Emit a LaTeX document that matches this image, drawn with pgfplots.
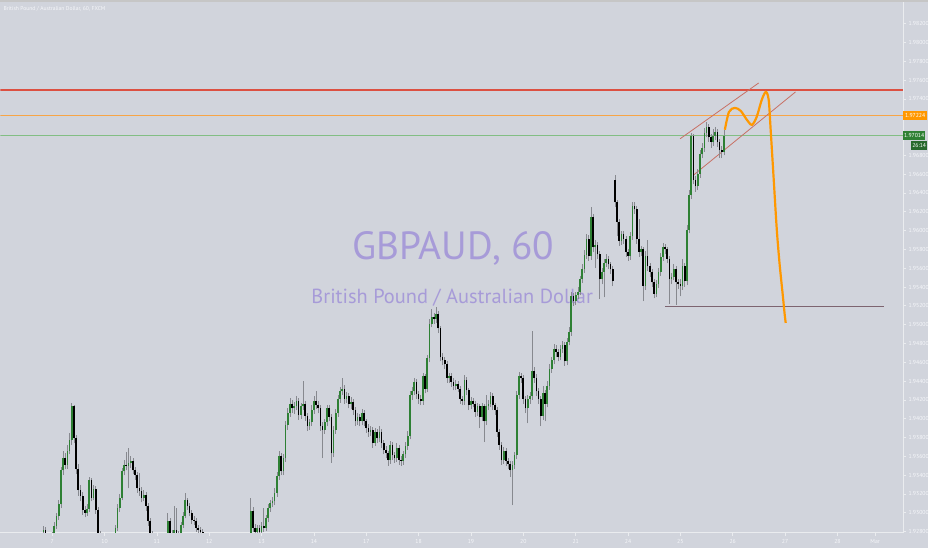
\documentclass[border=0pt]{standalone}
\usepackage{fontspec}
\setmainfont{PT Sans}
\usepackage{pgfplots}
\usepackage{pgfplotstable}
\pgfplotsset{compat=1.18}
\definecolor{bgc}{RGB}{209,212,220}
\definecolor{upc}{RGB}{46,128,52}
\definecolor{dnc}{RGB}{0,0,0}
\definecolor{wickc}{RGB}{135,137,143}
\definecolor{wmc}{RGB}{167,155,216}
\definecolor{lblc}{RGB}{246,247,250}
\definecolor{redl}{RGB}{220,80,66}
\definecolor{orgl}{RGB}{247,165,70}
\definecolor{grnl}{RGB}{130,190,132}
\definecolor{chanc}{RGB}{200,112,100}
\definecolor{suppc}{RGB}{125,100,112}
\definecolor{orgc}{RGB}{255,152,0}
\definecolor{dgrn}{RGB}{40,105,45}
\pgfplotstableread{
h o hi lo c
20 1.9280 1.9286 1.9270 1.9282
21 1.9282 1.9285 1.9264 1.9268
22 1.9268 1.9272 1.9260 1.9265
23 1.9265 1.9274 1.9262 1.9271
24 1.9271 1.9279 1.9268 1.9275
25 1.9275 1.9290 1.9272 1.9286
26 1.9286 1.9300 1.9283 1.9296
27 1.9296 1.9314 1.9292 1.9309
28 1.9309 1.9349 1.9305 1.9345
29 1.9345 1.9366 1.9340 1.9358
30 1.9358 1.9363 1.9346 1.9351
31 1.9351 1.9372 1.9347 1.9366
32 1.9366 1.9385 1.9362 1.9377
33 1.9377 1.9417 1.9372 1.9413
34 1.9413 1.9415 1.9374 1.9379
35 1.9379 1.9383 1.9341 1.9347
36 1.9347 1.9352 1.9318 1.9324
37 1.9324 1.9330 1.9312 1.9318
38 1.9318 1.9322 1.9298 1.9303
39 1.9303 1.9307 1.9295 1.9300
40 1.9300 1.9309 1.9297 1.9304
41 1.9304 1.9338 1.9301 1.9335
42 1.9335 1.9337 1.9312 1.9316
43 1.9316 1.9330 1.9313 1.9325
44 1.9325 1.9328 1.9299 1.9303
45 1.9303 1.9306 1.9273 1.9278
46 1.9278 1.9281 1.9264 1.9268
47 1.9268 1.9271 1.9256 1.9261
48 1.9261 1.9265 1.9252 1.9257
49 1.9257 1.9260 1.9250 1.9254
50 1.9254 1.9263 1.9251 1.9260
51 1.9260 1.9268 1.9257 1.9265
52 1.9265 1.9275 1.9262 1.9271
53 1.9271 1.9287 1.9268 1.9284
54 1.9284 1.9309 1.9281 1.9305
55 1.9305 1.9320 1.9301 1.9316
56 1.9316 1.9348 1.9313 1.9344
57 1.9344 1.9356 1.9340 1.9351
58 1.9351 1.9365 1.9345 1.9350
59 1.9350 1.9369 1.9326 1.9353
60 1.9353 1.9360 1.9348 1.9355
61 1.9355 1.9358 1.9341 1.9345
62 1.9345 1.9349 1.9335 1.9340
63 1.9340 1.9343 1.9321 1.9326
64 1.9326 1.9342 1.9318 1.9323
65 1.9323 1.9327 1.9311 1.9316
66 1.9316 1.9324 1.9312 1.9319
67 1.9319 1.9322 1.9302 1.9307
68 1.9307 1.9310 1.9286 1.9291
69 1.9291 1.9294 1.9273 1.9278
70 1.9278 1.9281 1.9263 1.9268
71 1.9268 1.9271 1.9259 1.9263
72 1.9263 1.9266 1.9253 1.9257
73 1.9257 1.9264 1.9254 1.9261
74 1.9261 1.9268 1.9258 1.9265
75 1.9265 1.9272 1.9262 1.9269
76 1.9269 1.9276 1.9266 1.9273
77 1.9273 1.9300 1.9270 1.9291
78 1.9291 1.9294 1.9274 1.9278
79 1.9278 1.9282 1.9270 1.9275
80 1.9275 1.9307 1.9272 1.9282
81 1.9282 1.9305 1.9274 1.9278
82 1.9278 1.9281 1.9270 1.9275
83 1.9275 1.9290 1.9272 1.9287
84 1.9287 1.9301 1.9284 1.9297
85 1.9297 1.9321 1.9294 1.9313
86 1.9313 1.9316 1.9303 1.9307
87 1.9307 1.9310 1.9296 1.9300
88 1.9300 1.9303 1.9288 1.9292
89 1.9292 1.9296 1.9287 1.9291
90 1.9291 1.9294 1.9280 1.9284
91 1.9284 1.9287 1.9278 1.9282
92 1.9282 1.9285 1.9276 1.9280
93 1.9280 1.9283 1.9269 1.9273
94 1.9273 1.9276 1.9261 1.9265
95 1.9265 1.9268 1.9257 1.9261
96 1.9261 1.9264 1.9252 1.9256
97 1.9256 1.9259 1.9248 1.9252
98 1.9252 1.9255 1.9246 1.9250
99 1.9250 1.9257 1.9247 1.9254
100 1.9254 1.9260 1.9251 1.9257
101 1.9257 1.9260 1.9248 1.9252
102 1.9252 1.9255 1.9242 1.9246
103 1.9246 1.9249 1.9239 1.9243
104 1.9243 1.9246 1.9237 1.9241
105 1.9241 1.9248 1.9238 1.9245
106 1.9245 1.9253 1.9242 1.9250
107 1.9250 1.9253 1.9242 1.9246
108 1.9246 1.9255 1.9243 1.9252
109 1.9252 1.9259 1.9249 1.9256
110 1.9256 1.9259 1.9250 1.9254
111 1.9254 1.9263 1.9251 1.9260
112 1.9260 1.9266 1.9257 1.9263
113 1.9263 1.9270 1.9260 1.9267
114 1.9267 1.9275 1.9264 1.9271
115 1.9271 1.9316 1.9268 1.9302
116 1.9302 1.9306 1.9280 1.9284
117 1.9284 1.9288 1.9276 1.9280
118 1.9280 1.9287 1.9277 1.9284
119 1.9284 1.9287 1.9276 1.9280
120 1.9280 1.9290 1.9277 1.9286
121 1.9286 1.9305 1.9280 1.9284
122 1.9284 1.9298 1.9281 1.9294
123 1.9294 1.9309 1.9290 1.9305
124 1.9305 1.9314 1.9301 1.9310
125 1.9310 1.9317 1.9306 1.9312
126 1.9312 1.9326 1.9308 1.9321
127 1.9321 1.9343 1.9317 1.9339
128 1.9339 1.9366 1.9335 1.9360
129 1.9360 1.9364 1.9340 1.9344
130 1.9344 1.9362 1.9340 1.9358
131 1.9358 1.9398 1.9354 1.9393
132 1.9393 1.9411 1.9388 1.9406
133 1.9406 1.9422 1.9402 1.9416
134 1.9416 1.9420 1.9406 1.9411
135 1.9411 1.9418 1.9405 1.9413
136 1.9413 1.9424 1.9409 1.9419
137 1.9419 1.9422 1.9399 1.9404
138 1.9404 1.9417 1.9400 1.9413
139 1.9413 1.9440 1.9409 1.9416
140 1.9416 1.9419 1.9398 1.9403
141 1.9403 1.9406 1.9387 1.9392
142 1.9392 1.9400 1.9388 1.9396
143 1.9396 1.9414 1.9392 1.9409
144 1.9409 1.9424 1.9405 1.9419
145 1.9419 1.9429 1.9410 1.9415
146 1.9415 1.9419 1.9406 1.9411
147 1.9411 1.9414 1.9387 1.9392
148 1.9392 1.9396 1.9358 1.9388
149 1.9388 1.9400 1.9384 1.9396
150 1.9396 1.9415 1.9392 1.9411
151 1.9411 1.9414 1.9397 1.9402
152 1.9402 1.9405 1.9353 1.9363
153 1.9363 1.9392 1.9359 1.9388
154 1.9388 1.9410 1.9384 1.9406
155 1.9406 1.9425 1.9402 1.9421
156 1.9421 1.9434 1.9417 1.9429
157 1.9429 1.9443 1.9425 1.9432
158 1.9432 1.9436 1.9416 1.9421
159 1.9421 1.9428 1.9417 1.9424
160 1.9424 1.9427 1.9411 1.9416
161 1.9416 1.9423 1.9410 1.9418
162 1.9418 1.9421 1.9404 1.9409
163 1.9409 1.9412 1.9392 1.9397
164 1.9397 1.9406 1.9393 1.9402
165 1.9402 1.9405 1.9392 1.9397
166 1.9397 1.9410 1.9393 1.9406
167 1.9406 1.9409 1.9392 1.9397
168 1.9397 1.9400 1.9385 1.9390
169 1.9390 1.9394 1.9381 1.9386
170 1.9386 1.9392 1.9382 1.9388
171 1.9388 1.9391 1.9369 1.9374
172 1.9374 1.9390 1.9371 1.9386
173 1.9386 1.9389 1.9374 1.9379
174 1.9379 1.9392 1.9375 1.9386
175 1.9386 1.9389 1.9369 1.9374
176 1.9374 1.9377 1.9362 1.9367
177 1.9367 1.9371 1.9358 1.9363
178 1.9363 1.9366 1.9350 1.9356
179 1.9356 1.9376 1.9352 1.9372
180 1.9372 1.9375 1.9356 1.9361
181 1.9361 1.9365 1.9353 1.9358
182 1.9358 1.9374 1.9354 1.9369
183 1.9369 1.9372 1.9351 1.9356
184 1.9356 1.9360 1.9350 1.9355
185 1.9355 1.9366 1.9351 1.9362
186 1.9362 1.9375 1.9358 1.9371
187 1.9371 1.9387 1.9367 1.9382
188 1.9382 1.9429 1.9378 1.9425
189 1.9425 1.9434 1.9420 1.9429
190 1.9429 1.9443 1.9425 1.9439
191 1.9439 1.9442 1.9421 1.9426
192 1.9426 1.9429 1.9416 1.9421
193 1.9421 1.9425 1.9414 1.9419
194 1.9419 1.9449 1.9415 1.9445
195 1.9445 1.9448 1.9427 1.9432
196 1.9432 1.9468 1.9428 1.9464
197 1.9464 1.9506 1.9460 1.9501
198 1.9501 1.9517 1.9497 1.9508
199 1.9508 1.9512 1.9501 1.9506
200 1.9506 1.9519 1.9502 1.9511
201 1.9511 1.9514 1.9491 1.9496
202 1.9496 1.9499 1.9461 1.9466
203 1.9466 1.9470 1.9457 1.9462
204 1.9462 1.9466 1.9453 1.9458
205 1.9458 1.9461 1.9438 1.9443
206 1.9443 1.9449 1.9438 1.9445
207 1.9445 1.9449 1.9434 1.9439
208 1.9439 1.9443 1.9430 1.9435
209 1.9435 1.9441 1.9431 1.9437
210 1.9437 1.9440 1.9428 1.9432
211 1.9432 1.9435 1.9416 1.9421
212 1.9421 1.9424 1.9414 1.9419
213 1.9419 1.9446 1.9415 1.9441
214 1.9441 1.9444 1.9425 1.9430
215 1.9430 1.9433 1.9409 1.9414
216 1.9414 1.9423 1.9410 1.9419
217 1.9419 1.9422 1.9412 1.9416
218 1.9416 1.9419 1.9402 1.9407
219 1.9407 1.9417 1.9403 1.9413
220 1.9413 1.9416 1.9390 1.9402
221 1.9402 1.9417 1.9398 1.9413
222 1.9413 1.9416 1.9375 1.9397
223 1.9397 1.9425 1.9393 1.9413
224 1.9413 1.9420 1.9409 1.9416
225 1.9416 1.9428 1.9412 1.9424
226 1.9424 1.9427 1.9409 1.9414
227 1.9414 1.9417 1.9404 1.9409
228 1.9409 1.9412 1.9381 1.9386
229 1.9386 1.9389 1.9367 1.9372
230 1.9372 1.9375 1.9351 1.9356
231 1.9356 1.9370 1.9352 1.9366
232 1.9366 1.9369 1.9350 1.9355
233 1.9355 1.9358 1.9346 1.9352
234 1.9352 1.9355 1.9338 1.9345
235 1.9345 1.9355 1.9308 1.9351
236 1.9351 1.9365 1.9347 1.9361
237 1.9361 1.9429 1.9357 1.9425
238 1.9425 1.9450 1.9421 1.9445
239 1.9445 1.9449 1.9438 1.9443
240 1.9443 1.9446 1.9416 1.9421
241 1.9421 1.9424 1.9406 1.9411
242 1.9411 1.9425 1.9395 1.9421
243 1.9421 1.9428 1.9416 1.9424
244 1.9424 1.9493 1.9420 1.9451
245 1.9451 1.9455 1.9438 1.9443
246 1.9443 1.9447 1.9424 1.9429
247 1.9429 1.9433 1.9416 1.9421
248 1.9421 1.9424 1.9392 1.9403
249 1.9403 1.9435 1.9399 1.9427
250 1.9427 1.9430 1.9397 1.9416
251 1.9416 1.9440 1.9412 1.9435
252 1.9435 1.9458 1.9431 1.9453
253 1.9453 1.9466 1.9449 1.9462
254 1.9462 1.9479 1.9458 1.9474
255 1.9474 1.9478 1.9466 1.9471
256 1.9471 1.9474 1.9461 1.9466
257 1.9466 1.9478 1.9462 1.9474
258 1.9474 1.9483 1.9470 1.9478
259 1.9478 1.9481 1.9456 1.9461
260 1.9461 1.9486 1.9457 1.9482
261 1.9482 1.9497 1.9478 1.9492
262 1.9492 1.9535 1.9488 1.9530
263 1.9530 1.9534 1.9520 1.9525
264 1.9525 1.9535 1.9521 1.9531
265 1.9531 1.9540 1.9527 1.9535
266 1.9535 1.9552 1.9531 1.9548
267 1.9548 1.9564 1.9544 1.9559
268 1.9559 1.9579 1.9555 1.9574
269 1.9574 1.9596 1.9570 1.9591
270 1.9591 1.9595 1.9568 1.9573
271 1.9573 1.9625 1.9569 1.9614
272 1.9614 1.9618 1.9577 1.9582
273 1.9582 1.9590 1.9560 1.9585
274 1.9585 1.9588 1.9570 1.9575
275 1.9575 1.9578 1.9527 1.9548
276 1.9548 1.9560 1.9543 1.9556
277 1.9556 1.9570 1.9529 1.9566
278 1.9566 1.9575 1.9561 1.9570
279 1.9570 1.9573 1.9559 1.9564
280 1.9564 1.9567 1.9554 1.9559
281 1.9559 1.9562 1.9541 1.9546
282 1.9654 1.9659 1.9625 1.9630
283 1.9630 1.9633 1.9594 1.9609
284 1.9609 1.9612 1.9584 1.9589
285 1.9589 1.9600 1.9585 1.9596
286 1.9596 1.9599 1.9586 1.9591
287 1.9591 1.9594 1.9572 1.9577
288 1.9577 1.9580 1.9568 1.9573
289 1.9573 1.9598 1.9569 1.9594
290 1.9594 1.9630 1.9590 1.9626
291 1.9626 1.9630 1.9618 1.9623
292 1.9623 1.9626 1.9586 1.9591
293 1.9591 1.9612 1.9572 1.9577
294 1.9577 1.9584 1.9573 1.9580
295 1.9580 1.9583 1.9525 1.9541
296 1.9541 1.9578 1.9537 1.9573
297 1.9573 1.9590 1.9557 1.9562
298 1.9562 1.9566 1.9551 1.9556
299 1.9556 1.9559 1.9540 1.9545
300 1.9545 1.9548 1.9528 1.9533
301 1.9533 1.9547 1.9529 1.9543
302 1.9543 1.9560 1.9539 1.9556
303 1.9556 1.9576 1.9552 1.9572
304 1.9572 1.9587 1.9568 1.9582
305 1.9582 1.9586 1.9575 1.9580
306 1.9580 1.9583 1.9565 1.9570
307 1.9570 1.9573 1.9522 1.9548
308 1.9548 1.9555 1.9543 1.9551
309 1.9551 1.9564 1.9547 1.9559
310 1.9559 1.9562 1.9521 1.9545
311 1.9545 1.9549 1.9538 1.9543
312 1.9543 1.9548 1.9530 1.9541
313 1.9541 1.9570 1.9537 1.9562
314 1.9562 1.9565 1.9540 1.9546
315 1.9546 1.9606 1.9542 1.9601
316 1.9601 1.9643 1.9597 1.9638
317 1.9638 1.9704 1.9634 1.9700
318 1.9700 1.9703 1.9649 1.9654
319 1.9654 1.9658 1.9641 1.9647
320 1.9647 1.9665 1.9643 1.9660
321 1.9660 1.9686 1.9656 1.9681
322 1.9681 1.9693 1.9677 1.9688
323 1.9688 1.9709 1.9684 1.9704
324 1.9704 1.9715 1.9699 1.9710
325 1.9710 1.9713 1.9694 1.9699
326 1.9699 1.9703 1.9688 1.9694
327 1.9694 1.9708 1.9690 1.9701
328 1.9701 1.9710 1.9696 1.9705
329 1.9705 1.9708 1.9689 1.9694
330 1.9694 1.9697 1.9677 1.9686
331 1.9686 1.9690 1.9677 1.9684
332 1.9684 1.9707 1.9680 1.9701
}\candles
\begin{document}
\begin{tikzpicture}[x=1pt,y=1pt]
\fill[bgc] (0,0) rectangle (932,550);
\node[text=wmc, font=\fontsize{39.5}{39.5}\selectfont, anchor=base, inner sep=0pt] at (455,290) {GBPAUD, 60};
\node[text=wmc, font=\fontsize{20.5}{20.5}\selectfont, anchor=base, inner sep=0pt] at (454,245) {British Pound / Australian Dollar};
\begin{axis}[
  at={(0pt,15pt)}, anchor=south west,
  scale only axis, width=907pt, height=535pt,
  xmin=0.27, xmax=414.1, ymin=1.92786, ymax=1.98447,
  axis x line=bottom, axis y line=right,
  axis line style={draw=white!55!bgc, line width=0.8pt, -},
  xtick={24,48,72,96,120,144,168,192,216,240,264,288,312,336,360,384,401.3},
  xticklabels={7,10,11,12,13,14,17,18,19,20,21,24,25,26,27,28,Mar},
  ytick={1.928,1.930,1.932,1.934,1.936,1.938,1.940,1.942,1.944,1.946,1.948,1.950,1.952,1.954,1.956,1.958,1.960,1.962,1.964,1.966,1.968,1.974,1.976,1.978,1.980,1.982},
  /pgf/number format/fixed, /pgf/number format/fixed zerofill,
  /pgf/number format/precision=5, /pgf/number format/assume math mode=true,
  tick style={draw=white!55!bgc, line width=0.6pt},
  major tick length=3pt, tick align=outside,
  ticklabel style={font=\fontsize{5.8}{6}\selectfont, text=lblc},
  xticklabel style={yshift=0pt},
  yticklabel style={xshift=-1pt},
]
\addplot[draw=redl, line width=1.2pt, forget plot] coordinates {(0.27,1.97495) (414.1,1.97495)};
\addplot[draw=orgl, line width=1.2pt, forget plot] coordinates {(0.27,1.97224) (414.1,1.97224)};
\addplot[draw=grnl, line width=1.2pt, forget plot] coordinates {(0.27,1.97014) (414.1,1.97014)};
\addplot[draw=suppc, line width=0.8pt, forget plot] coordinates {(305.1,1.95198) (405.4,1.95198)};
\addplot[draw=chanc, line width=0.8pt, forget plot] coordinates {(311.9,1.96976) (347.9,1.97569)};
\addplot[draw=chanc, line width=0.8pt, forget plot] coordinates {(318.3,1.96595) (364.8,1.97474)};
% wicks
\addplot[forget plot, draw=none, mark=none,
  error bars/.cd, y dir=plus, y explicit, error mark=none,
  error bar style={draw=wickc, line width=0.65pt}]
  table[x=h, y=lo, y error expr=\thisrow{hi}-\thisrow{lo}] {\candles};
% up bodies
\addplot[forget plot, draw=none, mark=none,
  restrict expr to domain={\thisrow{c}-\thisrow{o}}{0:1},
  error bars/.cd, y dir=plus, y explicit, error mark=none,
  error bar style={draw=upc, line width=1.7pt}]
  table[x=h, y=o, y error expr=\thisrow{c}-\thisrow{o}] {\candles};
% down bodies
\addplot[forget plot, draw=none, mark=none,
  restrict expr to domain={\thisrow{o}-\thisrow{c}}{0.00001:1},
  error bars/.cd, y dir=plus, y explicit, error mark=none,
  error bar style={draw=dnc, line width=1.7pt}]
  table[x=h, y=c, y error expr=\thisrow{o}-\thisrow{c}] {\candles};
% projected path
\addplot[draw=orgc, line width=2.2pt, smooth, tension=0.5, forget plot] coordinates {
(332.4,1.97071) (334.3,1.97262) (337.0,1.97304) (339.7,1.97272) (342.5,1.97177)
(344.8,1.97124) (347.0,1.97209) (349.3,1.97389) (351.2,1.97474) (352.5,1.97389)
(353.4,1.97071) (354.8,1.96542) (356.2,1.96013) (357.5,1.95643) (358.9,1.95325)
(359.8,1.95114) (360.3,1.95018)};
\coordinate (po) at (axis cs:414.1,1.97224);
\coordinate (pg) at (axis cs:414.1,1.97014);
\end{axis}
\node[fill=orgc, text=white, font=\fontsize{5.8}{6}\selectfont, inner sep=0pt, anchor=west, minimum width=24pt, minimum height=9pt] at (po) {1.97224};
\node[fill=upc, text=white, font=\fontsize{5.8}{6}\selectfont, inner sep=0pt, anchor=west, minimum width=22pt, minimum height=9pt] at (pg) {1.97014};
\node[fill=dgrn, text=white, font=\fontsize{5.8}{6}\selectfont, inner sep=0pt, anchor=west, minimum width=16pt, minimum height=9pt] at ([xshift=8pt,yshift=-10.5pt]pg) {26:14};
\fill[white!55!gray] (0,548.8) rectangle (932,550);
\node[anchor=base west, text=lblc, font=\fontsize{5.6}{6}\selectfont, inner sep=0pt] at (3,540) {British Pound / Australian Dollar, 60, FXCM};
\end{tikzpicture}
\end{document}
